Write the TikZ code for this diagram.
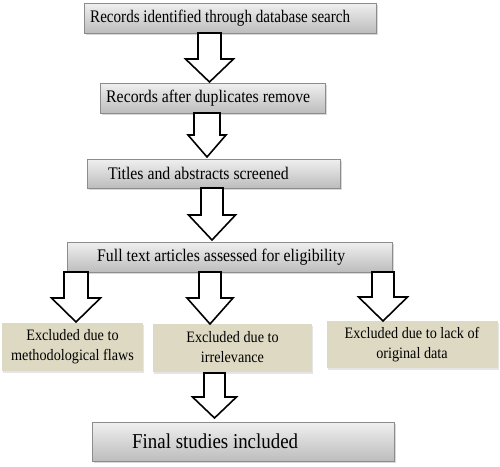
\documentclass[tikz,border=0pt]{standalone}
\usepackage{fontspec}
\setmainfont{Liberation Serif}
\usepackage{graphicx}
\usetikzlibrary{shadows}
\definecolor{tanbox}{HTML}{DDD9C3}
\tikzset{
  graybox/.style={draw=black!45, line width=0.6pt, top color=black!6, bottom color=black!26,
    drop shadow={shadow xshift=1.5pt, shadow yshift=-1.5pt, fill=black!25, opacity=0.6}},
  tanbx/.style={fill=tanbox, draw=none,
    drop shadow={shadow xshift=1pt, shadow yshift=-1.5pt, fill=black!20, opacity=0.5}},
  barrow/.style={draw=black, fill=white, line width=1.6pt, line join=miter},
  gtext/.style={anchor=west, inner sep=0pt, font=\fontsize{15.8}{18}\selectfont},
  ttext/.style={align=center, inner sep=0pt, font=\fontsize{14.2}{20}\selectfont},
}
\newcommand\blockarr[6]{%
  \draw[barrow] ({#1-#3},#2) -- ({#1+#3},#2) -- ({#1+#3},#4) -- ({#1+#5},#4) -- (#1,#6)
    -- ({#1-#5},#4) -- ({#1-#3},#4) -- cycle;}
\newcommand\vs[1]{\scalebox{1}[1.12]{#1}}
\begin{document}
\begin{tikzpicture}[x=1pt,y=-1pt]
\useasboundingbox (0,0) rectangle (500,466);
% gray boxes
\path[graybox] (84,3) rectangle (376,33);
\path[graybox] (100,83) rectangle (325,113);
\path[graybox] (87,159) rectangle (340,188);
\path[graybox] (67,242) rectangle (392,272);
\path[graybox] (92,422) rectangle (394,461);
% tan boxes
\path[tanbx] (2,323) rectangle (143,371);
\path[tanbx] (153,324) rectangle (312,372);
\path[tanbx] (327,321) rectangle (498,368);
% texts
\node[gtext, font=\fontsize{15.1}{18}\selectfont] (t1) at (90,18) {\scalebox{1}[1.17]{Records identified through database search}};
\node[gtext] (t2) at (106,98) {\vs{Records after duplicates remove}};
\node[gtext] (t3) at (108,173.5) {\vs{Titles and abstracts screened}};
\node[gtext] (t4) at (97,257) {\vs{Full text articles assessed for eligibility}};
\node[gtext, font=\fontsize{18.9}{22}\selectfont] (t5) at (132,441.5) {\vs{Final studies included}};
\node[ttext] (e1) at (72.5,347) {\vs{Excluded due to}\\\vs{methodological flaws}};
\node[ttext] (e2) at (232.5,347) {\vs{Excluded due to}\\\vs{irrelevance}};
\node[ttext] (e3) at (412,345) {\vs{Excluded due to lack of}\\\vs{original data}};
% block arrows
\blockarr{209.5}{33}{11.5}{59}{24}{82}
\blockarr{207}{113}{13}{135}{19}{157}
\blockarr{212}{188}{11}{215}{23.5}{240}
\blockarr{76}{272}{12}{298}{24.5}{322}
\blockarr{210}{272}{11}{298}{23}{324}
\blockarr{383}{272}{11}{297}{24.5}{321}
\blockarr{214.5}{373}{10.5}{397}{22}{418}
\end{tikzpicture}
\end{document}
